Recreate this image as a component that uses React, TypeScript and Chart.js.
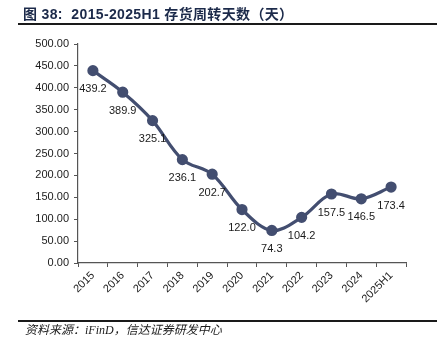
import React, { useEffect, useRef } from "react";
import { Chart, registerables } from "chart.js";

Chart.register(...registerables);

const categories = ["2015", "2016", "2017", "2018", "2019", "2020", "2021", "2022", "2023", "2024", "2025H1"];
const inventoryDays = [439.2, 389.9, 325.1, 236.1, 202.7, 122.0, 74.3, 104.2, 157.5, 146.5, 173.4];
const yMin = 0;
const yMax = 500;
const yStep = 50;

const titleText = "图 38:  2015-2025H1 存货周转天数（天）";
const sourceText = "资料来源：iFinD，信达证券研发中心";

const LINE_COLOR = "#434e70";

const labelPlugin = {
  id: "pointLabels",
  afterDatasetsDraw(chart: any) {
    const ctx = chart.ctx;
    const meta = chart.getDatasetMeta(0);
    ctx.save();
    ctx.font = "11px 'Liberation Sans', Arial, sans-serif";
    ctx.fillStyle = "#1a1a1a";
    ctx.textAlign = "center";
    ctx.textBaseline = "middle";
    meta.data.forEach((pt: any, i: number) => {
      const v = inventoryDays[i];
      ctx.fillText(v.toFixed(1), pt.x, pt.y + 18.5);
    });
    ctx.restore();
  },
};

function ChartCanvas() {
  const ref = useRef<HTMLCanvasElement | null>(null);
  useEffect(() => {
    if (!ref.current) return;
    const chart = new Chart(ref.current, {
      type: "line",
      data: {
        labels: categories,
        datasets: [
          {
            data: inventoryDays,
            borderColor: LINE_COLOR,
            backgroundColor: LINE_COLOR,
            borderWidth: 3.2,
            pointRadius: 4,
            pointBackgroundColor: LINE_COLOR,
            pointBorderColor: LINE_COLOR,
            tension: 0.35,
            fill: false,
          },
        ],
      },
      options: {
        responsive: false,
        animation: false,
        devicePixelRatio: 1,
        layout: { padding: { top: 44, right: 39, left: 0, bottom: 0 } },
        plugins: { legend: { display: false }, tooltip: { enabled: false }, title: { display: false } },
        scales: {
          x: {
            type: "category",
            offset: true,
            afterFit: (s: any) => {
              s.height = 343 - 263;
            },
            grid: {
              display: true,
              drawOnChartArea: false,
              drawTicks: true,
              tickLength: 4,
              color: "#555555",
              offset: true,
            },
            border: { display: true, color: "#555555", width: 1.2 },
            ticks: {
              maxRotation: 45,
              minRotation: 45,
              autoSkip: false,
              padding: 2,
              color: "#1a1a1a",
              font: { family: "'Liberation Sans', Arial, sans-serif", size: 11 },
            },
          },
          y: {
            min: yMin,
            max: yMax,
            afterFit: (s: any) => {
              s.width = 78;
            },
            grid: {
              display: true,
              drawOnChartArea: false,
              drawTicks: true,
              tickLength: 4,
              color: "#555555",
            },
            border: { display: true, color: "#555555", width: 1.2 },
            ticks: {
              stepSize: yStep,
              padding: 5,
              color: "#1a1a1a",
              font: { family: "'Liberation Sans', Arial, sans-serif", size: 11 },
              callback: (v: any) => Number(v).toFixed(2),
            },
          },
        },
      },
      plugins: [labelPlugin],
    });
    return () => chart.destroy();
  }, []);
  return (
    <canvas
      ref={ref}
      width={445}
      height={343}
      style={{ position: "absolute", left: 0, top: 0, width: 445, height: 343 }}
    />
  );
}

export default function App() {
  return (
    <div
      style={{
        position: "fixed",
        left: 0,
        top: 0,
        width: 445,
        height: 343,
        background: "#ffffff",
        overflow: "hidden",
      }}
    >
      <ChartCanvas />
      <div
        style={{
          position: "absolute",
          left: 23,
          top: 5,
          fontFamily: "'Liberation Sans', Arial, 'Noto Sans CJK SC', sans-serif",
          fontWeight: "bold",
          fontSize: 14,
          letterSpacing: "0.35px",
          lineHeight: "18px",
          color: "#1c2a4a",
          whiteSpace: "pre",
        }}
      >
        {titleText}
      </div>
      <div
        style={{
          position: "absolute",
          left: 18,
          top: 23,
          width: 419,
          height: 2,
          background: "#1a1a1a",
        }}
      />
      <div
        style={{
          position: "absolute",
          left: 18,
          top: 320,
          width: 419,
          height: 1.5,
          background: "#1a1a1a",
        }}
      />
      <div
        style={{
          position: "absolute",
          left: 25,
          top: 322,
          fontFamily: "'Liberation Serif', 'Times New Roman', 'Noto Sans CJK SC', serif",
          fontStyle: "italic",
          fontSize: 12,
          lineHeight: "16px",
          color: "#1a1a1a",
          whiteSpace: "pre",
        }}
      >
        {sourceText}
      </div>
    </div>
  );
}
